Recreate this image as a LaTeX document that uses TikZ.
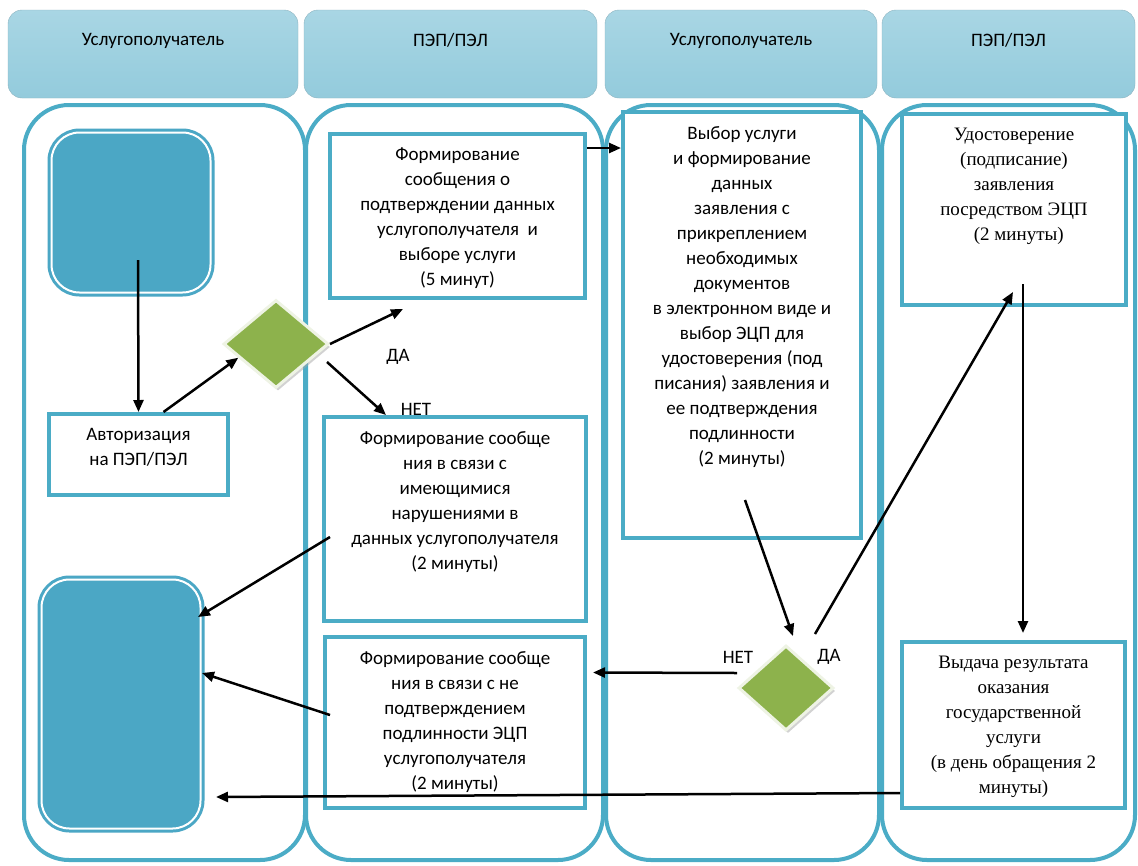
\documentclass[tikz,border=0pt]{standalone}
\usepackage{fontspec}
\setmainfont{Carlito}
\newfontfamily\timesfont{Liberation Serif}
\usetikzlibrary{calc,positioning,shapes.geometric,arrows.meta,shadows}
\definecolor{lanec}{HTML}{4BACC6}
\definecolor{fillc}{HTML}{4BA7C5}
\definecolor{decc}{HTML}{8DB24C}
\definecolor{hdrtop}{HTML}{A9D6E4}
\definecolor{hdrmid}{HTML}{E2F1F6}
\definecolor{hdrbot}{HTML}{93CBDC}

\begin{document}
\begin{tikzpicture}[x=1pt,y=-1pt,font=\fontsize{19}{25}\selectfont,
    lane/.style={draw=lanec,line width=4pt,rounded corners=45pt},
    hdr/.style={rounded corners=14pt,draw=hdrbot!70!gray,top color=hdrtop,middle color=hdrmid,bottom color=hdrbot,minimum height=88pt,inner sep=0},
    txt/.style={anchor=north,yshift=-14pt,align=center,inner sep=2pt},
    hdrtxt/.style={anchor=north,yshift=-21pt,inner sep=2pt},
    serif/.style={font=\timesfont\fontsize{19}{25}\selectfont},
    box/.style={draw=lanec,line width=4pt,fill=white,inner sep=0},
    term/.style={draw=fillc,fill=fillc,line width=3pt,double=white,double distance=2pt,rounded corners=28pt,inner sep=0},
    dec/.style={diamond,fill=decc,draw=decc!15!white,line width=3pt,inner sep=0,drop shadow={shadow xshift=2pt,shadow yshift=-3pt,fill=black!35}},
    arr/.style={-{Triangle[length=12pt,width=10pt]},line width=2.5pt}]
    \fill[white] (0,0) rectangle (1138,865);
    \useasboundingbox (0,0) rectangle (1138,865);

    % swimlanes
    \draw[lane] (24,105) rectangle (305,860);
    \draw[lane] (306,105) rectangle (603,860);
    \draw[lane] (606,105) rectangle (879,860);
    \draw[lane] (882,105) rectangle (1135,860);

    \node[hdr,minimum width=290,label={[hdrtxt]north:Услугополучатель}] (hdr1) at (153,54) {};
    \node[hdr,minimum width=293,label={[hdrtxt]north:ПЭП/ПЭЛ}]          (hdr2) at (450.5,54) {};
    \node[hdr,minimum width=272,label={[hdrtxt]north:Услугополучатель}] (hdr3) at (741,54) {};
    \node[hdr,minimum width=253,label={[hdrtxt]north:ПЭП/ПЭЛ}]          (hdr4) at (1008.5,54) {};

    % steps
    \node[term,minimum width=159,minimum height=160] (entry)  at (131,212.5) {};
    \node[term,minimum width=159,minimum height=249] (finish) at (121,704) {};
    \node[box,minimum width=179,minimum height=81,label={[txt]north:Авторизация\\на ПЭП/ПЭЛ}] (auth) at (138.5,454.5) {};
    \node[dec,minimum width=105,minimum height=88] (dec1) at (276,344) {};
    \node[dec,minimum width=95,minimum height=85]  (dec2) at (786,688) {};

    \node[box,minimum width=255,minimum height=164,label={[txt]north:Формирование\\сообщения о\\подтверждении данных\\услугополучателя~~и\\выборе услуги\\(5 минут)}] (msgok) at (457.5,216) {};
    \node[box,minimum width=262,minimum height=204,label={[txt]north:Формирование сообще\\ния в связи с\\имеющимися\\нарушениями в\\данных услугополучателя\\(2 минуты)}] (msgerr) at (455,519) {};
    \node[box,minimum width=260,minimum height=171,label={[txt]north:Формирование сообще\\ния в связи с не\\подтверждением\\подлинности ЭЦП\\услугополучателя\\(2 минуты)}] (msgsig) at (455,722.5) {};
    \node[box,minimum width=238,minimum height=426,label={[txt]north:Выбор услуги\\и формирование\\данных\\заявления с\\прикреплением\\необходимых\\документов\\в электронном виде и\\выбор ЭЦП для\\удостоверения (под\\писания) заявления и\\ее подтверждения\\подлинности\\(2 минуты)}] (select) at (742,325) {};
    \node[box,minimum width=224,minimum height=191,label={[txt,serif]north:Удостоверение\\(подписание)\\заявления\\посредством ЭЦП\\~~(2 минуты)}] (sign) at (1014,209.5) {};
    \node[box,minimum width=223,minimum height=166,label={[txt,serif]north:Выдача результата\\оказания\\государственной\\услуги\\(в день обращения 2\\минуты)}] (result) at (1013.5,725) {};

    \node (yes1) at (398,357) {ДА};
    \node (no1)  at (416,409) {НЕТ};
    \node (no2)  at (738,657) {НЕТ};
    \node (yes2) at (829,657) {ДА};

    \begin{scope}[arr]
        \draw ($(entry.south)+(7,-34)$) -- (auth.north);
        \draw ($(auth.north)+(25,0)$) -- (dec1.200);
        \draw (dec1.east) -- ($(msgok.south west)+(75,9)$);
        \draw ($(dec1.east)+(-3,18)$) -- ($(msgerr.north west)+(64,0)$);
        \draw ($(msgok.north east)+(0,16)$) -- ($(select.north west)+(0,38)$);
        \draw ($(select.south)+(3,-40)$) -- ($(dec2.north)+(7,-8)$);
        \draw ($(dec2.north)+(29,-10)$) -- ($(sign.south)+(-1,-15)$);
        \draw ($(sign.south)+(9,-23)$) -- ($(result.north)+(9.5,-7)$);
        \draw ($(dec2.west)+(0,-15)$) -- ($(msgsig.east)+(6,-50)$);
        \draw ($(msgerr.west)+(8,18)$) -- ($(finish.north east)+(-4,39)$);
        \draw ($(msgsig.west)+(7,-7.5)$) -- ($(finish.east)+(0,-31)$);
        \draw ($(result.west)+(0,68)$) -- ($(finish.east)+(14,93)$);
    \end{scope}
\end{tikzpicture}
\end{document}
